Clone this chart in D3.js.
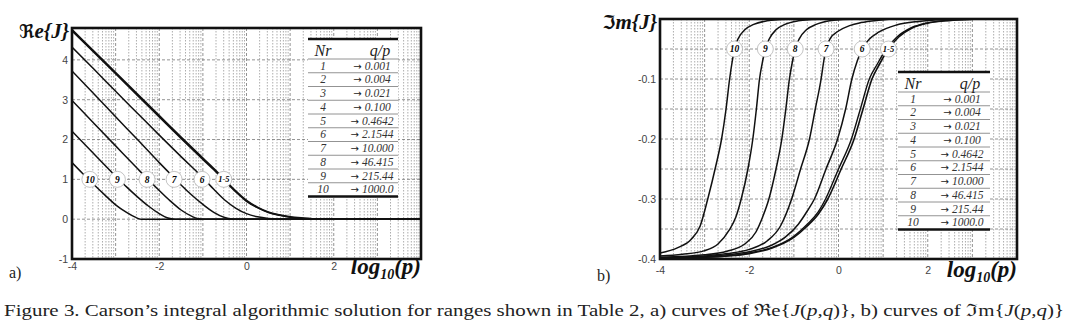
<!DOCTYPE html>
<html>
<head>
<meta charset="utf-8">
<script src="https://cdn.jsdelivr.net/npm/d3@7"></script>
<style>
    body { margin: 0; background: #fff; }
    svg { display: block; }
    .sans { font-family: 'Liberation Sans', Arial, sans-serif; }
    .serif { font-family: 'Liberation Serif', 'Times New Roman', serif; }
    .dv { font-family: 'DejaVu Sans', sans-serif; }
</style>
</head>
<body>
<div id="chart"></div>
<script>

// ---- values ----

const xTicks = [-4, -2, 0, 2];
const reTicks = [-1, 0, 1, 2, 3, 4];
const imTicks = [-0.4, -0.3, -0.2, -0.1];
const reGridY = [-1, 0, 1, 2, 3, 4];
const imGridY = [-0.35, -0.3, -0.25, -0.2, -0.15, -0.1, -0.05];

const tableNr = ["1", "2", "3", "4", "5", "6", "7", "8", "9", "10"];
const tableQp = ["0.001", "0.004", "0.021", "0.100", "0.4642", "2.1544", "10.000", "46.415", "215.44", "1000.0"];

const tagNames = ["10", "9", "8", "7", "6", "1-5"];
const reTagX = [-3.59, -2.96, -2.28, -1.66, -1.02, -0.52];
const imTagX = [-2.33, -1.64, -0.97, -0.28, 0.53, 1.12];

// Re{J(p,q)}  -> [log10(p), value]
const re1to4 = [[-4, 4.76], [-3.5, 4.22], [-3, 3.68], [-2.5, 3.14], [-2, 2.60], [-1.5, 2.06], [-1, 1.53],
    [-0.75, 1.27], [-0.5, 0.99], [-0.25, 0.71], [0, 0.47], [0.25, 0.30], [0.5, 0.18], [0.75, 0.11],
    [1, 0.06], [1.25, 0.03], [1.5, 0.01], [1.75, 0], [4, 0]];
const re5 = [[-4, 4.73], [-3.5, 4.19], [-3, 3.65], [-2.5, 3.11], [-2, 2.57], [-1.5, 2.03], [-1, 1.50],
    [-0.75, 1.24], [-0.5, 0.96], [-0.25, 0.69], [0, 0.45], [0.25, 0.29], [0.5, 0.17], [0.75, 0.10],
    [1, 0.05], [1.25, 0.02], [1.5, 0.01], [1.75, 0], [4, 0]];
const re6 = [[-4, 4.32], [-3.5, 3.77], [-3, 3.21], [-2.5, 2.66], [-2, 2.11], [-1.5, 1.57], [-1, 1.04],
    [-0.75, 0.75], [-0.5, 0.48], [-0.25, 0.28], [0, 0.14], [0.25, 0.06], [0.5, 0.02], [0.75, 0.005],
    [1, 0], [4, 0]];
const re7 = [[-4, 3.72], [-3.5, 3.15], [-3, 2.57], [-2.5, 2.00], [-2, 1.42], [-1.75, 1.14], [-1.5, 0.86],
    [-1.25, 0.60], [-1, 0.37], [-0.75, 0.17], [-0.5, 0.04], [-0.3, 0], [4, 0]];
const re8 = [[-4, 2.98], [-3.5, 2.41], [-3, 1.84], [-2.5, 1.27], [-2.25, 0.99], [-2, 0.72], [-1.75, 0.46],
    [-1.5, 0.23], [-1.25, 0.07], [-1.1, 0.01], [-1, 0], [4, 0]];
const re9 = [[-4, 2.21], [-3.5, 1.64], [-3, 1.08], [-2.75, 0.81], [-2.5, 0.56], [-2.25, 0.33], [-2, 0.14],
    [-1.8, 0.03], [-1.65, 0], [4, 0]];
const re10 = [[-4, 1.42], [-3.75, 1.14], [-3.5, 0.87], [-3.25, 0.61], [-3, 0.36], [-2.75, 0.17],
    [-2.55, 0.05], [-2.42, 0], [4, 0]];

// Im{J(p,q)}  -> [log10(p), value]
const im1to4 = [[-4, -0.398], [-3, -0.397], [-2.5, -0.395], [-2, -0.391], [-1.5, -0.382], [-1, -0.364],
    [-0.7, -0.345], [-0.45, -0.325], [-0.24, -0.300], [0.06, -0.250], [0.35, -0.200], [0.55, -0.150],
    [0.75, -0.100], [0.92, -0.075], [1.12, -0.050], [1.35, -0.030], [1.65, -0.015], [2, -0.007],
    [2.4, -0.003], [2.8, -0.001], [3.2, 0], [4, 0]];
const im5 = [[-4, -0.398], [-3, -0.397], [-2.5, -0.395], [-2, -0.390], [-1.5, -0.381], [-1, -0.362],
    [-0.7, -0.342], [-0.45, -0.321], [-0.29, -0.300], [0, -0.250], [0.29, -0.200], [0.49, -0.150],
    [0.69, -0.100], [0.87, -0.075], [1.07, -0.050], [1.31, -0.030], [1.62, -0.015], [1.95, -0.007],
    [2.35, -0.003], [2.75, -0.001], [3.2, 0], [4, 0]];
const im6 = [[-4, -0.398], [-3, -0.396], [-2.5, -0.393], [-2, -0.388], [-1.5, -0.377], [-1.2, -0.364],
    [-0.9, -0.342], [-0.7, -0.320], [-0.54, -0.300], [-0.28, -0.250], [-0.02, -0.200], [0.16, -0.150],
    [0.30, -0.100], [0.42, -0.070], [0.53, -0.050], [0.7, -0.033], [0.9, -0.022], [1.3, -0.010],
    [1.8, -0.004], [2.4, -0.001], [2.8, 0], [4, 0]];
const im7 = [[-4, -0.398], [-3, -0.395], [-2.5, -0.391], [-2, -0.384], [-1.6, -0.370], [-1.3, -0.345],
    [-1.05, -0.300], [-0.85, -0.250], [-0.65, -0.200], [-0.52, -0.150], [-0.39, -0.100], [-0.33, -0.070],
    [-0.28, -0.050], [-0.18, -0.032], [0, -0.020], [0.25, -0.011], [0.5, -0.006], [0.9, -0.002],
    [1.3, 0], [4, 0]];
const im8 = [[-4, -0.397], [-3, -0.393], [-2.5, -0.387], [-2.1, -0.375], [-1.85, -0.355], [-1.7, -0.330],
    [-1.56, -0.300], [-1.40, -0.250], [-1.27, -0.200], [-1.18, -0.150], [-1.10, -0.100], [-1.03, -0.070],
    [-0.97, -0.050], [-0.88, -0.033], [-0.72, -0.018], [-0.5, -0.009], [-0.2, -0.003], [0.1, -0.001],
    [0.5, 0], [4, 0]];
const im9 = [[-4, -0.395], [-3.5, -0.392], [-3, -0.386], [-2.7, -0.375], [-2.45, -0.352], [-2.3, -0.330],
    [-2.18, -0.300], [-2.03, -0.250], [-1.92, -0.200], [-1.84, -0.150], [-1.77, -0.100], [-1.70, -0.070],
    [-1.64, -0.050], [-1.55, -0.033], [-1.40, -0.018], [-1.2, -0.009], [-0.9, -0.003], [-0.6, -0.001],
    [-0.3, 0], [4, 0]];
const im10 = [[-4, -0.390], [-3.6, -0.381], [-3.3, -0.367], [-3.1, -0.345], [-2.93, -0.300], [-2.75, -0.245],
    [-2.62, -0.200], [-2.52, -0.150], [-2.44, -0.100], [-2.38, -0.070], [-2.33, -0.050], [-2.25, -0.033],
    [-2.1, -0.018], [-1.9, -0.009], [-1.6, -0.003], [-1.3, -0.001], [-1, 0], [4, 0]];


class CarsonPanel {

    constructor(svg, cfg) {
        this.svg = svg;
        this.cfg = cfg;
        this.initVis();
    }

    initVis() {
        let vis = this;
        let c = vis.cfg;

        vis.g = vis.svg.append("g");

        vis.x = d3.scaleLinear().domain([-4, 4]).range([c.left, c.right]);
        vis.y = d3.scaleLinear().domain(c.yDomain).range([c.bottom, c.top]);

        vis.g.append("clipPath").attr("id", c.id + "-clip")
            .append("rect")
            .attr("x", c.left).attr("y", c.top)
            .attr("width", c.right - c.left).attr("height", c.bottom - c.top);

        // log grid: decades dashed, 2..9 dotted
        let minor = [];
        d3.range(-4, 4).forEach(d => d3.range(2, 10).forEach(k => minor.push(d + Math.log10(k))));

        vis.g.append("g").selectAll("line")
            .data(minor)
            .join("line")
            .attr("x1", d => vis.x(d)).attr("x2", d => vis.x(d))
            .attr("y1", c.top).attr("y2", c.bottom)
            .attr("stroke", "#8a8a8a").attr("stroke-width", 0.7)
            .attr("stroke-dasharray", "1.5,1.5");

        vis.g.append("g").selectAll("line")
            .data(d3.range(-3, 4))
            .join("line")
            .attr("x1", d => vis.x(d)).attr("x2", d => vis.x(d))
            .attr("y1", c.top).attr("y2", c.bottom)
            .attr("stroke", "#777").attr("stroke-width", 0.8)
            .attr("stroke-dasharray", "3,2");

        vis.g.append("g").selectAll("line")
            .data(c.gridY)
            .join("line")
            .attr("x1", c.left).attr("x2", c.right)
            .attr("y1", d => vis.y(d)).attr("y2", d => vis.y(d))
            .attr("stroke", "#777").attr("stroke-width", 0.8)
            .attr("stroke-dasharray", "3,2");

        // axes
        let yAxis = vis.g.append("g")
            .attr("transform", `translate(${c.left},0)`)
            .call(d3.axisLeft(vis.y).tickValues(c.yTicks).tickSize(0).tickPadding(4)
                .tickFormat(d => String(d)));
        let xAxis = vis.g.append("g")
            .attr("transform", `translate(0,${c.bottom})`)
            .call(d3.axisBottom(vis.x).tickValues(xTicks).tickSize(0).tickPadding(c.xPad)
                .tickFormat(d => String(d)));
        [xAxis, yAxis].forEach(a => {
            a.attr("font-family", null).attr("font-size", null);
            a.select(".domain").remove();
            a.selectAll("text")
                .attr("class", "sans")
                .style("font-size", "10.5px")
                .attr("fill", "#444");
        });

        vis.updateVis();
    }

    updateVis() {
        let vis = this;
        let c = vis.cfg;

        let line = d3.line()
            .x(d => vis.x(d[0]))
            .y(d => vis.y(d[1]))
            .curve(d3.curveMonotoneX);

        vis.g.append("g")
            .attr("clip-path", `url(#${c.id}-clip)`)
            .attr("fill", "none")
            .selectAll("path")
            .data(c.series)
            .join("path")
            .attr("stroke", "#111")
            .attr("stroke-width", d => d.w)
            .attr("stroke-linejoin", "round")
            .attr("d", d => line(d.values));

        // curve tags
        let tags = vis.g.append("g").selectAll("g")
            .data(tagNames.map((n, i) => ({name: n, x: c.tagX[i]})))
            .join("g")
            .attr("transform", d => `translate(${vis.x(d.x)},${vis.y(c.tagY)})`);
        tags.append("circle")
            .attr("r", 8)
            .attr("fill", "#fff")
            .attr("stroke", "#aaa")
            .attr("stroke-width", 0.7);
        tags.append("text")
            .attr("class", "serif")
            .attr("text-anchor", "middle")
            .attr("dy", "0.35em")
            .style("font-style", "italic")
            .style("font-weight", "bold")
            .style("font-size", d => d.name.length > 2 ? "8.5px" : "9.5px")
            .text(d => d.name);

        // legend table
        let t = c.table;
        let rowH = 13.75;
        let head = t.top + 20;
        let tb = vis.g.append("g");
        tb.append("rect")
            .attr("x", t.x0).attr("y", t.top)
            .attr("width", t.x1 - t.x0).attr("height", head + rowH * 10 - t.top)
            .attr("fill", "#fff");
        tb.selectAll("line.sep")
            .data(d3.range(0, 10))
            .join("line")
            .attr("class", "sep")
            .attr("x1", t.x0).attr("x2", t.x1)
            .attr("y1", i => head + rowH * i).attr("y2", i => head + rowH * i)
            .attr("stroke", "#777").attr("stroke-width", 0.8);
        [t.top, head + rowH * 10].forEach(yy => {
            tb.append("line")
                .attr("x1", t.x0).attr("x2", t.x1)
                .attr("y1", yy).attr("y2", yy)
                .attr("stroke", "#111").attr("stroke-width", 2.6);
        });
        tb.selectAll("text.hd")
            .data([["Nr", 15], ["q/p", 72]])
            .join("text")
            .attr("class", "hd serif")
            .attr("x", d => t.x0 + d[1]).attr("y", t.top + 17)
            .attr("text-anchor", "middle")
            .style("font-style", "italic").style("font-size", "16px")
            .attr("fill", "#222")
            .text(d => d[0]);
        tb.selectAll("text.nr")
            .data(tableNr)
            .join("text")
            .attr("class", "nr serif")
            .attr("x", t.x0 + 15)
            .attr("y", (d, i) => head + rowH * i + 10.5)
            .attr("text-anchor", "middle")
            .style("font-style", "italic").style("font-size", "11.5px")
            .attr("fill", "#333")
            .text(d => d);
        let qp = tb.selectAll("text.qp")
            .data(tableQp)
            .join("text")
            .attr("class", "qp serif")
            .attr("x", t.x0 + 64)
            .attr("y", (d, i) => head + rowH * i + 10.5)
            .attr("text-anchor", "middle")
            .style("font-style", "italic").style("font-size", "11.5px")
            .attr("fill", "#333");
        qp.append("tspan").attr("class", "dv").style("font-style", "normal")
            .style("font-size", "10px").attr("fill", "#222").text("\u2192 ");
        qp.append("tspan").text(d => d);

        // frame
        vis.g.append("rect")
            .attr("x", c.left).attr("y", c.top)
            .attr("width", c.right - c.left).attr("height", c.bottom - c.top)
            .attr("fill", "none").attr("stroke", "#111").attr("stroke-width", 2.6);

        // titles
        let yt = vis.g.append("text")
            .attr("class", "serif")
            .attr("x", c.left - 3).attr("y", c.top + 10)
            .attr("text-anchor", "end")
            .style("font-style", "italic").style("font-weight", "bold")
            .style("font-size", "21px")
            .attr("fill", "#111");
        yt.append("tspan").attr("class", "dv").style("font-size", "19px").text(c.yName[0]);
        yt.append("tspan").text(c.yName[1]);

        let xt = vis.g.append("text")
            .attr("class", "serif")
            .attr("x", c.right).attr("y", c.bottom + c.logDy)
            .attr("text-anchor", "end")
            .style("font-style", "italic").style("font-weight", "bold")
            .style("font-size", "23px")
            .attr("fill", "#111");
        xt.append("tspan").text("log");
        xt.append("tspan").style("font-size", "14px").attr("dy", 5).text("10");
        xt.append("tspan").attr("dy", -5).text("(p)");

        vis.g.append("text")
            .attr("class", "serif")
            .attr("x", c.panelX).attr("y", c.panelY)
            .style("font-size", "16px")
            .attr("fill", "#222")
            .text(c.panel);
    }
}


let svg = d3.select("#chart")
    .append("svg")
    .attr("width", 1068)
    .attr("height", 334);

svg.append("rect").attr("width", 1068).attr("height", 334).attr("fill", "#fff");

new CarsonPanel(svg, {
    id: "re",
    left: 72, right: 421, top: 28, bottom: 259,
    yDomain: [-1, 4.8],
    yTicks: reTicks,
    gridY: reGridY,
    xPad: 4,
    series: [
        {values: re10, w: 1.5}, {values: re9, w: 1.5}, {values: re8, w: 1.5},
        {values: re7, w: 1.5}, {values: re6, w: 1.5}, {values: re5, w: 1.6}, {values: re1to4, w: 1.8}
    ],
    tagX: reTagX, tagY: 1,
    table: {x0: 308, x1: 398, top: 39},
    yName: ["\u211C", "e{J}"],
    logDy: 15,
    panel: "a)", panelX: 9, panelY: 278
});

new CarsonPanel(svg, {
    id: "im",
    left: 660, right: 1017, top: 19, bottom: 259,
    yDomain: [-0.4, 0],
    yTicks: imTicks,
    gridY: imGridY,
    xPad: 8,
    series: [
        {values: im10, w: 1.5}, {values: im9, w: 1.5}, {values: im8, w: 1.5},
        {values: im7, w: 1.5}, {values: im6, w: 1.5}, {values: im5, w: 1.4}, {values: im1to4, w: 1.6}
    ],
    tagX: imTagX, tagY: -0.05,
    table: {x0: 898, x1: 990, top: 72},
    yName: ["\u2111", "m{J}"],
    logDy: 18,
    panel: "b)", panelX: 597, panelY: 281
});

// caption
let cap = svg.append("text")
    .attr("class", "serif")
    .attr("x", 4).attr("y", 316)
    .style("font-size", "17px")
    .attr("fill", "#222")
    .attr("textLength", 1060)
    .attr("lengthAdjust", "spacingAndGlyphs");
cap.append("tspan").text("Figure 3. Carson\u2019s integral algorithmic solution for ranges shown in Table 2, a) curves of \u211Ce{");
cap.append("tspan").style("font-style", "italic").text("J");
cap.append("tspan").text("(");
cap.append("tspan").style("font-style", "italic").text("p,q");
cap.append("tspan").text(")}, b) curves of \u2111m{");
cap.append("tspan").style("font-style", "italic").text("J");
cap.append("tspan").text("(");
cap.append("tspan").style("font-style", "italic").text("p,q");
cap.append("tspan").text(")}");

</script>
</body>
</html>
